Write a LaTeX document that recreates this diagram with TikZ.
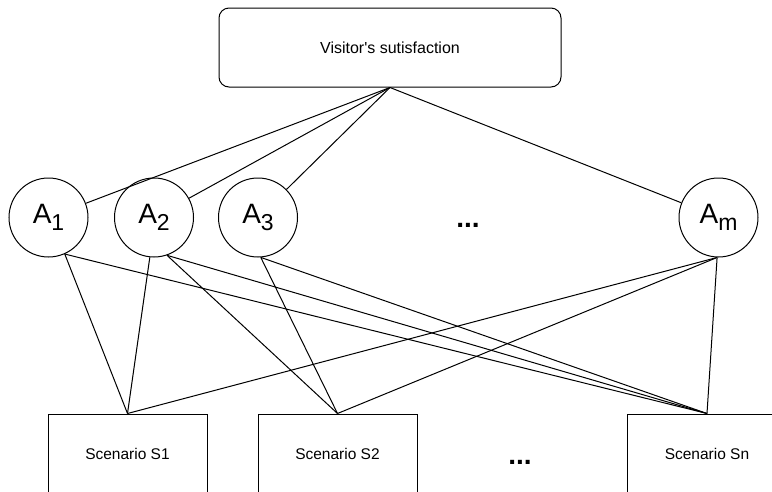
\documentclass[tikz,border=0pt]{standalone}
\usepackage{fontspec}
\setmainfont{Liberation Sans}
\newcommand\attrlabel[1]{\fontsize{28}{30}\selectfont A\raisebox{-6.5pt}{\fontsize{23}{25}\selectfont #1}}
\begin{document}
\begin{tikzpicture}[x=1pt,y=-1pt, line width=1pt,
  topbox/.style={draw, rounded corners=10pt, minimum width=342pt, minimum height=79pt, inner sep=0pt, font=\fontsize{16}{19}\selectfont},
  attr/.style={draw, circle, minimum size=79pt, inner sep=0pt},
  scen/.style={draw, minimum width=159pt, minimum height=80pt, inner sep=0pt, font=\fontsize{15.5}{18}\selectfont},
  dots/.style={inner sep=0pt, anchor=base, font=\fontsize{28}{30}\selectfont\bfseries},
  link/.style={draw, line width=1pt}]
\useasboundingbox (0,0) rectangle (772,491);
\fill[white] (0,0) rectangle (772,491);
\clip (0,0) rectangle (772,491);

\node[topbox] (top) at (390,47.5) {Visitor\textquotesingle s sutisfaction};
\coordinate (vs) at (top.south);

\node[attr] (a1) at (48.5,217.5) {\attrlabel{1}};
\node[attr] (a2) at (154,217.5) {\attrlabel{2}};
\node[attr] (a3) at (258,217.5) {\attrlabel{3}};
\node[attr] (am) at (718.5,217.5) {\attrlabel{m}};
\node[dots] (d1) at (468,227) {...};

\node[scen] (s1) at (127.5,454) {Scenario S1};
\node[scen] (s2) at (337.5,454) {Scenario S2};
\node[scen] (sn) at (707,454) {Scenario Sn};
\node[dots] (d2) at (520,464) {...};

\path[link] (vs) -- (a1);
\path[link] (vs) -- (a2);
\path[link] (vs) -- (a3);
\path[link] (vs) -- (am);

\path[link] (a1.-66) -- (s1.north);
\path[link] (a1.-66) -- (sn.north);
\path[link] (a2.-96) -- (s1.north);
\path[link] (a2.-71) -- (s2.north);
\path[link] (a2.-71) -- (sn.north);
\path[link] (a3.-86) -- (s2.north);
\path[link] (a3.-86) -- (sn.north);
\path[link] (am.-92) -- (s1.north);
\path[link] (am.-92) -- (s2.north);
\path[link] (am.-92) -- (sn.north);
\end{tikzpicture}
\end{document}
